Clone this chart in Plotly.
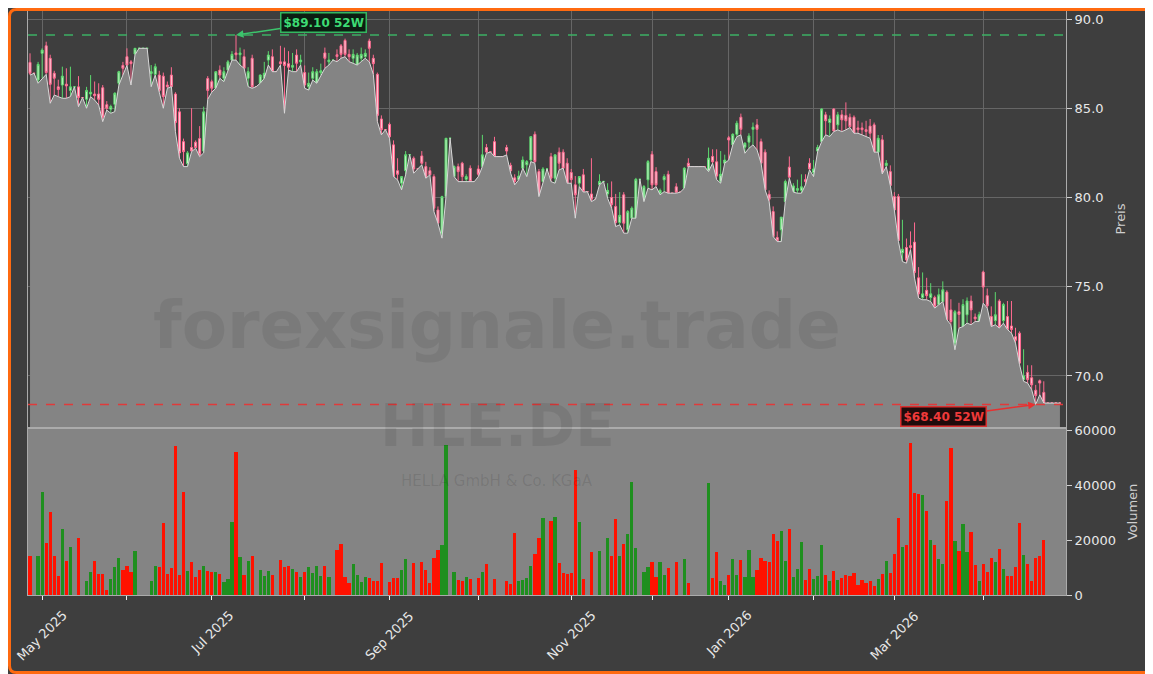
import pandas as pd
import plotly.graph_objects as go

# ---------------- data ----------------
HOLIDAYS = ['2025-05-01', '2025-12-24', '2025-12-25', '2025-12-26', '2025-12-31',
            '2026-01-01', '2026-04-03', '2026-04-06']
trading_days = [d for d in pd.bdate_range('2025-04-28', '2026-04-30')
                if d.strftime('%Y-%m-%d') not in HOLIDAYS]

open_ = [
    87.57, 86.96, 86.58, 88.08, 88.50, 87.80, 86.96, 86.20, 86.30, 86.35,
    86.00, 86.20, 86.20, 85.60, 85.50, 85.80, 85.80, 85.80, 86.15, 85.20,
    84.95, 85.22, 86.40, 87.40, 87.89, 87.60, 88.04, 88.36, 88.36, 88.36,
    86.95, 86.90, 86.86, 86.80, 86.30, 86.86, 85.80, 84.80, 83.13, 81.90,
    82.80, 83.10, 83.30, 82.60, 86.67, 86.49, 86.12, 87.14, 86.68, 87.14,
    87.70, 88.10, 88.00, 87.89, 86.68, 87.80, 86.21, 86.40, 86.68, 87.70,
    87.89, 87.05, 87.60, 87.60, 87.50, 87.30, 87.98, 87.60, 87.00, 86.20,
    86.68, 86.40, 87.00, 88.10, 87.60, 87.70, 88.00, 88.50, 88.80, 88.02,
    87.80, 87.42, 87.80, 87.90, 88.77, 87.80, 86.90, 84.40, 83.80, 84.10,
    82.95, 81.50, 80.80, 81.50, 82.40, 82.20, 81.60, 82.33, 81.73, 81.50,
    81.17, 79.30, 78.00, 80.05, 83.32, 81.17, 81.73, 81.92, 81.02, 81.64,
    80.89, 81.60, 81.73, 82.80, 82.55, 83.13, 82.29, 82.29, 82.80, 81.80,
    81.10, 81.00, 81.64, 81.83, 82.10, 83.54, 81.45, 80.89, 81.60, 82.29,
    81.08, 82.54, 82.54, 81.92, 81.40, 80.71, 80.80, 81.27, 80.33, 80.20,
    79.90, 80.71, 80.90, 80.20, 80.00, 79.50, 78.60, 80.15, 78.19, 78.84,
    78.84, 81.02, 79.77, 80.99, 82.42, 81.45, 80.24, 80.99, 81.30, 80.24,
    80.60, 80.30, 80.52, 81.92, 81.73, 81.73, 81.73, 81.73, 81.50, 82.30,
    82.00, 80.90, 81.92, 83.35, 82.95, 83.54, 84.50, 82.82, 83.10, 83.82,
    84.07, 83.13, 82.54, 80.18, 79.21, 77.76, 78.19, 79.77, 81.70, 80.30,
    80.40, 80.40, 81.00, 81.92, 81.40, 82.60, 83.13, 84.63, 84.20, 84.96,
    84.07, 84.63, 84.60, 84.50, 84.50, 83.90, 83.90, 83.80, 84.00, 84.07,
    82.54, 83.23, 81.79, 81.45, 80.05, 80.05, 76.90, 77.20, 77.30, 77.50,
    75.50, 74.40, 74.80, 74.40, 74.40, 74.00, 74.17, 74.70, 73.70, 71.84,
    73.60, 72.77, 73.43, 74.20, 73.30, 73.05, 75.82, 74.50, 73.33, 73.10,
    74.20, 73.10, 73.33, 72.80, 72.20, 72.40, 69.80, 70.20, 69.90, 69.20,
    69.73, 69.08, 68.48, 68.48, 68.48, 68.48,
]

high = [
    88.08, 86.96, 87.60, 88.36, 88.73, 88.00, 87.10, 86.60, 87.33, 87.24,
    87.33, 86.20, 86.80, 85.60, 86.20, 86.86, 86.50, 86.40, 86.30, 85.40,
    85.20, 85.90, 87.10, 87.60, 88.36, 87.70, 88.36, 88.36, 88.36, 88.36,
    87.42, 87.50, 87.10, 87.00, 86.50, 87.30, 85.90, 85.00, 83.30, 82.60,
    85.00, 83.20, 84.00, 85.09, 86.80, 86.60, 87.05, 87.40, 87.30, 87.70,
    88.20, 89.10, 88.40, 88.30, 87.30, 88.00, 86.21, 86.90, 87.60, 88.20,
    88.30, 87.05, 88.50, 88.40, 88.20, 88.10, 88.30, 88.00, 87.40, 87.00,
    87.30, 87.20, 87.50, 88.40, 88.10, 87.70, 88.30, 88.60, 88.90, 88.30,
    88.30, 88.10, 88.40, 88.30, 88.90, 88.00, 87.00, 84.60, 83.80, 84.20,
    83.20, 82.20, 81.20, 82.60, 82.40, 82.30, 81.60, 82.60, 82.00, 81.70,
    81.30, 79.50, 80.10, 83.32, 83.32, 81.80, 81.90, 82.00, 81.30, 81.80,
    80.89, 81.80, 83.51, 83.00, 82.55, 83.40, 82.29, 82.29, 82.95, 81.95,
    81.30, 81.50, 82.30, 82.10, 83.41, 83.70, 81.60, 81.70, 81.60, 82.50,
    82.40, 82.80, 82.70, 82.20, 81.60, 81.20, 81.20, 81.60, 80.33, 82.20,
    79.90, 81.30, 80.90, 80.80, 80.90, 80.20, 80.30, 80.30, 79.30, 79.50,
    81.10, 81.02, 80.70, 82.10, 82.60, 81.70, 80.50, 81.30, 81.50, 80.24,
    80.80, 80.30, 81.70, 82.20, 81.73, 81.73, 81.73, 81.73, 82.80, 82.70,
    82.70, 82.60, 82.40, 83.45, 83.60, 84.30, 84.70, 83.10, 83.60, 84.20,
    84.40, 83.30, 82.70, 80.40, 79.50, 78.10, 78.90, 81.00, 82.30, 80.80,
    81.00, 81.30, 81.30, 82.20, 82.10, 82.95, 85.00, 84.80, 84.60, 85.00,
    84.80, 84.90, 85.33, 84.70, 84.60, 84.30, 84.20, 84.30, 84.40, 84.20,
    83.50, 83.50, 82.10, 81.80, 80.30, 80.20, 78.75, 77.70, 78.10, 78.60,
    76.10, 75.80, 75.50, 75.20, 74.50, 74.90, 75.30, 74.80, 74.30, 73.70,
    74.10, 74.30, 74.40, 74.50, 73.50, 73.60, 75.90, 74.90, 73.90, 74.70,
    74.30, 74.10, 74.20, 74.20, 72.70, 72.50, 71.50, 70.60, 70.60, 69.50,
    69.80, 69.70, 68.48, 68.48, 68.48, 68.48,
]

low = [
    86.86, 86.96, 86.40, 86.68, 86.90, 85.28, 85.74, 85.65, 85.56, 85.56,
    85.65, 86.20, 85.09, 85.60, 85.00, 85.65, 85.46, 85.18, 84.25, 84.90,
    84.72, 84.81, 86.30, 86.86, 87.40, 86.30, 88.00, 88.36, 88.36, 88.36,
    86.21, 86.86, 85.90, 85.00, 86.12, 86.21, 83.69, 82.20, 81.73, 81.73,
    82.57, 82.76, 82.29, 82.50, 85.50, 85.90, 86.12, 86.68, 86.49, 87.14,
    87.70, 87.70, 87.42, 87.24, 86.21, 86.12, 86.21, 86.40, 86.68, 87.42,
    87.05, 87.05, 87.42, 84.72, 87.14, 87.05, 87.05, 87.42, 86.12, 86.02,
    86.58, 86.40, 86.86, 87.24, 87.42, 87.70, 87.61, 87.80, 87.89, 87.61,
    87.52, 87.42, 87.61, 87.80, 87.60, 86.90, 84.25, 83.51, 83.80, 83.32,
    81.17, 80.99, 80.43, 81.27, 82.40, 81.36, 81.60, 81.83, 81.08, 81.27,
    79.21, 78.56, 77.72, 80.05, 83.32, 81.17, 80.89, 80.89, 80.89, 80.89,
    80.89, 81.17, 81.73, 82.48, 82.55, 82.29, 82.29, 82.29, 82.39, 81.36,
    80.71, 80.99, 81.64, 81.17, 82.01, 81.92, 80.05, 80.89, 81.60, 80.89,
    80.80, 81.55, 81.64, 80.80, 80.80, 78.84, 80.61, 80.30, 80.33, 79.77,
    79.90, 80.71, 80.90, 79.96, 79.40, 78.37, 78.47, 78.00, 78.00, 78.84,
    78.84, 81.02, 79.77, 80.52, 80.43, 80.61, 80.15, 80.33, 80.24, 80.24,
    80.24, 80.30, 80.52, 81.73, 81.73, 81.73, 81.73, 81.73, 81.45, 81.92,
    81.00, 80.80, 81.92, 82.10, 82.95, 83.41, 83.51, 82.48, 82.76, 82.95,
    82.67, 81.92, 80.43, 79.77, 77.81, 77.53, 77.53, 79.77, 81.08, 80.30,
    80.24, 80.24, 80.71, 81.55, 81.17, 82.57, 83.13, 83.51, 83.41, 83.69,
    83.79, 83.69, 83.79, 83.92, 83.60, 83.60, 83.51, 83.41, 83.32, 82.54,
    82.54, 81.32, 81.73, 80.67, 79.30, 77.55, 76.41, 76.32, 77.07, 75.48,
    74.36, 74.27, 74.27, 74.17, 73.80, 73.99, 74.17, 73.15, 72.87, 71.47,
    72.68, 72.77, 72.96, 72.87, 73.05, 73.05, 74.08, 73.80, 72.77, 72.87,
    72.68, 72.96, 72.60, 72.40, 71.84, 70.63, 69.70, 69.60, 69.23, 68.40,
    68.95, 68.48, 68.48, 68.48, 68.48, 68.48,
]

close = [
    86.96, 86.96, 87.46, 88.26, 87.00, 86.34, 86.68, 86.05, 86.80, 86.25,
    86.20, 86.20, 85.60, 85.60, 86.00, 85.90, 85.70, 85.50, 84.50, 85.00,
    85.10, 85.84, 87.05, 87.24, 87.42, 87.50, 88.36, 88.36, 88.36, 88.36,
    87.05, 87.33, 86.00, 85.65, 86.21, 86.21, 84.20, 82.50, 82.57, 82.50,
    82.60, 82.80, 82.40, 84.80, 86.00, 86.12, 87.05, 86.86, 87.05, 87.60,
    88.02, 88.00, 88.10, 87.24, 87.05, 86.21, 86.21, 86.86, 86.96, 87.98,
    87.05, 87.05, 87.50, 87.40, 87.30, 87.40, 87.52, 87.70, 86.30, 86.40,
    87.05, 87.05, 87.10, 87.80, 87.70, 87.70, 87.90, 88.02, 88.02, 87.89,
    88.02, 87.98, 88.02, 88.08, 88.36, 87.50, 84.60, 83.80, 83.80, 83.40,
    81.17, 81.30, 81.17, 82.40, 82.40, 81.60, 81.60, 81.92, 81.08, 81.27,
    79.40, 78.56, 80.05, 83.32, 83.32, 81.73, 81.45, 81.17, 81.17, 80.89,
    80.89, 81.30, 82.39, 82.55, 82.55, 82.29, 82.29, 82.29, 82.60, 81.50,
    80.90, 81.20, 82.10, 82.01, 83.41, 82.01, 80.05, 81.60, 81.60, 81.08,
    82.39, 81.92, 81.64, 80.80, 81.00, 80.15, 81.17, 80.33, 80.33, 79.90,
    79.90, 80.90, 80.90, 80.40, 79.60, 78.60, 79.00, 78.56, 79.21, 79.40,
    81.02, 81.02, 80.61, 82.01, 80.71, 80.71, 80.40, 81.17, 80.24, 80.24,
    80.30, 80.30, 81.64, 81.73, 81.73, 81.73, 81.73, 81.73, 82.20, 82.00,
    81.20, 81.30, 82.10, 83.22, 83.54, 84.16, 83.82, 83.04, 83.45, 83.94,
    83.82, 81.92, 80.43, 79.90, 77.81, 77.57, 78.90, 80.89, 81.14, 80.65,
    80.50, 80.60, 80.90, 81.60, 81.60, 82.80, 84.96, 84.30, 84.40, 83.73,
    84.63, 84.35, 84.30, 83.97, 83.60, 83.80, 83.80, 83.70, 83.60, 82.54,
    83.32, 81.32, 81.92, 80.67, 79.30, 77.59, 77.10, 76.50, 77.20, 75.80,
    74.60, 74.60, 74.50, 74.60, 73.90, 74.55, 74.83, 73.15, 73.05, 73.60,
    73.45, 74.00, 74.20, 73.70, 73.20, 73.43, 74.98, 73.93, 72.77, 73.43,
    72.73, 74.00, 72.60, 72.60, 72.00, 70.72, 70.00, 69.80, 69.50, 68.90,
    69.60, 68.48, 68.48, 68.48, 68.48, 68.48,
]

volume = [
    14268, 0, 14268, 37805, 18902, 30366, 14268, 6951, 24146, 12439,
    17561, 0, 20853, 0, 5122, 8415, 12439, 7683, 7683, 1829,
    5854, 10244, 13537, 9146, 10610, 8415, 16097, 0, 0, 0,
    5122, 10610, 10244, 26341, 7683, 9878, 54512, 7317, 37683, 8780,
    12073, 6585, 9146, 10610, 8780, 8415, 8415, 7683, 4756, 5854,
    26707, 52317, 13902, 7317, 12439, 14268, 0, 9146, 6951, 8780,
    7317, 0, 12805, 10244, 10610, 9512, 8415, 6585, 8415, 10244,
    8049, 10610, 6951, 10610, 6585, 0, 16463, 18658, 6585, 4390,
    11341, 7317, 4756, 6585, 6219, 5122, 5122, 11707, 0, 4756,
    6219, 6219, 9146, 13171, 0, 11707, 0, 12073, 9146, 4390,
    13658, 16463, 18292, 54878, 0, 8415, 5488, 5122, 6585, 5854,
    0, 6219, 8415, 11341, 0, 5854, 0, 0, 5122, 4024,
    22683, 5122, 5488, 6219, 10610, 15000, 20853, 28170, 0, 27073,
    28536, 11707, 8049, 7683, 8049, 45731, 26707, 5854, 0, 15732,
    0, 16097, 0, 20853, 14268, 27805, 14268, 18658, 22317, 41341,
    17195, 0, 8415, 10244, 12073, 6585, 12073, 7317, 9878, 0,
    12073, 0, 13171, 4390, 0, 0, 0, 0, 40975, 6219,
    15732, 5122, 3659, 7317, 13171, 7317, 12805, 6585, 16463, 6585,
    9146, 13537, 12439, 12073, 22317, 19756, 23415, 12439, 24146, 6585,
    9512, 19390, 5488, 9512, 5854, 6951, 18292, 7317, 5122, 8780,
    5488, 6219, 7317, 6951, 8049, 3659, 5488, 4390, 5122, 3293,
    5854, 7683, 12439, 8049, 15000, 28170, 17561, 18292, 55609, 37317,
    36951, 36585, 30731, 20122, 18292, 13171, 11341, 34390, 53780, 19756,
    16097, 25975, 15732, 23049, 10975, 5122, 11341, 8415, 13537, 12073,
    16829, 9512, 6951, 6951, 10244, 26219, 14634, 11341, 5122, 13537,
    14268, 20122, 0, 0, 0, 0,
]

TICKER = "HLE.DE"
COMPANY = "HELLA GmbH & Co. KGaA"
WATERMARK = "forexsignale.trade"
PRICE_TICKS = [70, 75, 80, 85, 90]
VOL_TICKS = [0, 20000, 40000, 60000]

# ---------------- derived ----------------
n = len(close)
dates = trading_days[:n]
idx = list(range(n))

month_idx, month_txt = [], []
for i in range(1, n):
    if dates[i].month != dates[i - 1].month:
        month_idx.append(i)
        month_txt.append(dates[i].strftime('%b %Y') if dates[i].month % 2 == 1 else '')

vol_colors = ['#1f8f1f' if c >= o else '#ff1100' for o, c in zip(open_, close)]
hi52 = max(high)
lo52 = min(low)
hi_i = high.index(hi52)
lo_i = low.index(lo52)

# ---------------- layout geometry ----------------
# the page places the figure 8 px in from the top-left corner (default body margin)
OFF = 8
PAGE_W, PAGE_H = 1153, 674
W, H = PAGE_W - OFF, PAGE_H - OFF
ML, MR, MT, MB = 28 - OFF, 87, 11 - OFF, 79
PW, PH = W - ML - MR, H - MT - MB


def pxx(x):          # page pixel -> paper x
    return (x - OFF - ML) / PW


def pxy(y):          # page pixel -> paper y
    return (H - MB - (y - OFF)) / PH


BG = '#3e3e3e'
FILL = '#848484'
GRID = '#666666'
SPINE = '#ababab'
TXT = '#e8e8e8'

fig = go.Figure()

fig.add_trace(go.Scatter(
    x=idx, y=low, mode='lines', line=dict(color='#d8d8d8', width=1),
    fill='tozeroy', fillcolor=FILL, hoverinfo='skip', xaxis='x', yaxis='y'))

fig.add_trace(go.Candlestick(
    x=idx, open=open_, high=high, low=low, close=close,
    increasing=dict(line=dict(color='#5cd86e', width=1), fillcolor='#c8f2ca'),
    decreasing=dict(line=dict(color='#ff6a90', width=1), fillcolor='#ffd0da'),
    whiskerwidth=0, xaxis='x', yaxis='y'))

fig.add_trace(go.Bar(
    x=idx, y=volume, marker=dict(color=vol_colors, line=dict(width=0)),
    width=0.8, xaxis='x2', yaxis='y2'))

price_dom = [pxy(427), 1.0]
vol_dom = [0.0, pxy(429)]

fig.update_layout(
    template='none',
    width=W, height=H,
    margin=dict(l=ML, r=MR, t=MT, b=MB, autoexpand=False),
    paper_bgcolor=BG, plot_bgcolor=BG,
    showlegend=False,
    font=dict(family='DejaVu Sans', color=TXT, size=13),
    bargap=0,
    xaxis=dict(domain=[0, 1], anchor='y', range=[-0.5, 256.5], automargin=False,
               tickvals=month_idx, ticktext=['' for _ in month_idx],
               showticklabels=False, ticks='', showgrid=True, gridcolor=GRID,
               gridwidth=1, showline=True, mirror=True, linecolor=SPINE,
               linewidth=1, zeroline=False, rangeslider=dict(visible=False)),
    xaxis2=dict(domain=[0, 1], anchor='y2', matches='x', range=[-0.5, 256.5],
                automargin=False, showticklabels=False,
                tickvals=month_idx, ticks='outside', ticklen=4, tickcolor='#f0f0f0',
                showgrid=False, showline=True, mirror=True,
                linecolor=SPINE, linewidth=1, zeroline=False),
    yaxis=dict(domain=price_dom, anchor='x', side='right', automargin=False,
               range=[67.14, 90.45], tickvals=PRICE_TICKS, tickformat='.1f',
               ticks='outside', ticklen=5, tickcolor='#d0d0d0',
               tickfont=dict(size=13, color=TXT),
               showgrid=True, gridcolor=GRID, gridwidth=1,
               showline=True, mirror=True, linecolor=SPINE, linewidth=1,
               zeroline=False,
               title=dict(text='Preis', font=dict(size=13, color='#cfcfcf'),
                          standoff=13)),
    yaxis2=dict(domain=vol_dom, anchor='x2', side='right', automargin=False,
                range=[0, 60700], tickvals=VOL_TICKS, tickformat='d',
                ticks='outside', ticklen=5, tickcolor='#d0d0d0',
                tickfont=dict(size=13, color=TXT),
                showgrid=False, showline=True, mirror=True,
                linecolor=SPINE, linewidth=1, zeroline=False,
                title=dict(text='Volumen', font=dict(size=13, color='#cfcfcf'),
                           standoff=12)),
)

shapes = []
# volume panel background
shapes.append(dict(type='rect', xref='x2 domain', yref='y2 domain',
                   x0=0, x1=1, y0=0, y1=1, fillcolor=FILL,
                   line=dict(width=0), layer='below'))
# 52W high / low reference lines
shapes.append(dict(type='line', xref='x domain', yref='y', x0=0, x1=1,
                   y0=hi52, y1=hi52, line=dict(color='#3cb064', width=1.5, dash='dash')))
shapes.append(dict(type='line', xref='x domain', yref='y', x0=0, x1=1,
                   y0=lo52, y1=lo52, line=dict(color='#e03a3a', width=1.5, dash='dash')))
# orange rounded frame along the figure's edge
x0, x1, y0, y1, r = OFF + 1.5, PAGE_W - 1.5, OFF + 1.5, PAGE_H - 1.5, 7
path = (f"M {pxx(x0 + r)},{pxy(y0)} L {pxx(x1 - r)},{pxy(y0)} "
        f"Q {pxx(x1)},{pxy(y0)} {pxx(x1)},{pxy(y0 + r)} "
        f"L {pxx(x1)},{pxy(y1 - r)} Q {pxx(x1)},{pxy(y1)} {pxx(x1 - r)},{pxy(y1)} "
        f"L {pxx(x0 + r)},{pxy(y1)} Q {pxx(x0)},{pxy(y1)} {pxx(x0)},{pxy(y1 - r)} "
        f"L {pxx(x0)},{pxy(y0 + r)} Q {pxx(x0)},{pxy(y0)} {pxx(x0 + r)},{pxy(y0)} Z")
shapes.append(dict(type='path', xref='paper', yref='paper', path=path,
                   line=dict(color='#ff6a10', width=3), layer='above'))
fig.update_layout(shapes=shapes)

annotations = [
    dict(text=WATERMARK, xref='paper', yref='paper', x=pxx(497), y=pxy(325),
         showarrow=False, font=dict(size=66, color='rgba(0,0,0,0.075)',
                                    family='DejaVu Sans', weight='bold')),
    dict(text=TICKER, xref='paper', yref='paper', x=pxx(497), y=pxy(462),
         showarrow=False, font=dict(size=58, color='rgba(0,0,0,0.08)',
                                    family='DejaVu Sans', weight='bold')),
    dict(text=COMPANY, xref='paper', yref='paper', x=pxx(497), y=pxy(492),
         showarrow=False, font=dict(size=15, color='rgba(0,0,0,0.10)',
                                    family='DejaVu Sans')),
    dict(text=f"<b>${hi52:.2f} 52W</b>", x=hi_i, y=hi52, xref='x', yref='y',
         ax=87, ay=-13, showarrow=True, arrowhead=2, arrowsize=1, arrowwidth=1.5,
         arrowcolor='#3cc46c', bgcolor='#0c1e12', bordercolor='#33b860',
         borderwidth=1.5, borderpad=2,
         font=dict(size=12, color='#3ddc74', family='DejaVu Sans')),
    dict(text=f"<b>${lo52:.2f} 52W</b>", x=lo_i, y=lo52, xref='x', yref='y',
         ax=-92, ay=12, showarrow=True, arrowhead=2, arrowsize=1, arrowwidth=1.5,
         arrowcolor='#e83030', bgcolor='#200c0c', bordercolor='#d83030',
         borderwidth=1.5, borderpad=2,
         font=dict(size=12, color='#f03a3a', family='DejaVu Sans')),
]
# month labels, centred under their ticks and rotated by 45 degrees
for mi, mt in zip(month_idx, month_txt):
    if mt:
        annotations.append(dict(text=mt, x=mi, y=pxy(605), xref='x2', yref='paper',
                                xanchor='center', yanchor='top', textangle=-45,
                                showarrow=False,
                                font=dict(size=13, color=TXT, family='DejaVu Sans')))
fig.update_layout(annotations=annotations)

fig.write_html("out.html")
